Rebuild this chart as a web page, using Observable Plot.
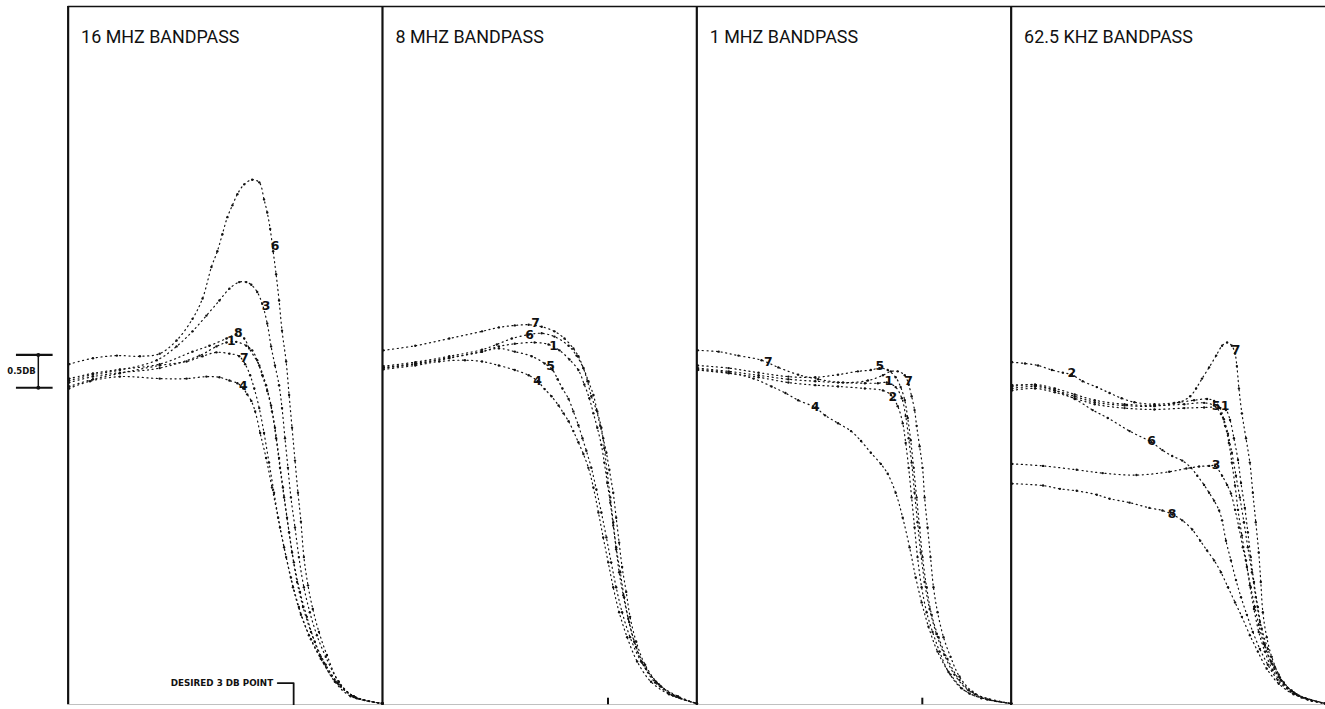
<!DOCTYPE html>
<html>
<head>
<meta charset="utf-8">
<script src="https://cdn.jsdelivr.net/npm/d3@7"></script>
<script src="https://cdn.jsdelivr.net/npm/@observablehq/plot@0.6"></script>
<style>
  html, body { margin: 0; padding: 0; background: #fff; overflow: hidden; }
  #chart svg { display: block; }
</style>
</head>
<body>
<div id="chart"></div>
<script>
// Filter passband responses: x = frequency normalised to the desired 3 dB point,
// y = relative response in dB. One array of [f, dB] samples per numbered curve.
const panels = ["16 MHZ BANDPASS", "8 MHZ BANDPASS", "1 MHZ BANDPASS", "62.5 KHZ BANDPASS"];

// 16 MHz bandpass
const bp16_6 = [[0.004,0.11],[0.109,0.20],[0.214,0.24],[0.315,0.23],[0.402,0.27],[0.476,0.47],[0.546,0.80],[0.590,1.11],[0.629,1.59],[0.655,1.83],[0.677,2.09],[0.699,2.35],[0.721,2.53],[0.743,2.70],[0.773,2.85],[0.808,2.92],[0.839,2.88],[0.860,2.62],[0.874,2.42],[0.887,2.17],[0.900,1.83],[0.913,1.48],[0.926,1.08],[0.939,0.62],[0.957,0.15],[0.970,-0.36],[0.983,-0.86],[0.996,-1.36],[1.009,-1.85],[1.022,-2.29],[1.035,-2.83],[1.053,-3.26],[1.074,-3.62],[1.101,-3.97],[1.136,-4.32],[1.188,-4.73],[1.253,-4.95],[1.380,-5.06]];
const bp16_3 = [[0.004,-0.14],[0.109,-0.05],[0.227,0.02],[0.389,0.17],[0.476,0.38],[0.546,0.61],[0.607,0.85],[0.664,1.08],[0.708,1.26],[0.751,1.36],[0.782,1.36],[0.804,1.32],[0.830,1.21],[0.852,1.03],[0.874,0.73],[0.891,0.38],[0.908,0.09],[0.926,-0.21],[0.939,-0.56],[0.952,-1.02],[0.965,-1.47],[0.978,-1.92],[0.996,-2.38],[1.013,-2.83],[1.035,-3.29],[1.061,-3.67],[1.092,-4.02],[1.131,-4.35],[1.188,-4.73],[1.253,-4.95],[1.380,-5.06]];
const bp16_8 = [[0.004,-0.11],[0.109,-0.03],[0.227,0.03],[0.402,0.11],[0.546,0.30],[0.620,0.39],[0.695,0.50],[0.738,0.56],[0.773,0.50],[0.795,0.35],[0.839,0.09],[0.869,-0.21],[0.891,-0.52],[0.908,-0.86],[0.926,-1.32],[0.943,-1.77],[0.961,-2.23],[0.983,-2.76],[1.005,-3.21],[1.031,-3.59],[1.066,-3.97],[1.109,-4.35],[1.171,-4.73],[1.240,-4.95],[1.380,-5.06]];
const bp16_1 = [[0.004,-0.17],[0.109,-0.08],[0.227,-0.02],[0.402,0.05],[0.577,0.24],[0.651,0.38],[0.695,0.44],[0.738,0.45],[0.782,0.39],[0.808,0.32],[0.830,0.17],[0.852,-0.06],[0.874,-0.30],[0.895,-0.61],[0.913,-1.02],[0.930,-1.47],[0.948,-1.92],[0.970,-2.45],[0.991,-2.91],[1.018,-3.36],[1.048,-3.74],[1.083,-4.12],[1.131,-4.47],[1.197,-4.80],[1.267,-4.98],[1.380,-5.06]];
const bp16_7 = [[0.004,-0.23],[0.109,-0.12],[0.227,-0.03],[0.402,0.09],[0.520,0.15],[0.590,0.23],[0.651,0.29],[0.708,0.27],[0.751,0.23],[0.777,0.11],[0.799,-0.06],[0.817,-0.26],[0.839,-0.56],[0.860,-0.94],[0.882,-1.39],[0.904,-1.85],[0.930,-2.38],[0.957,-2.83],[0.987,-3.29],[1.022,-3.71],[1.066,-4.08],[1.122,-4.44],[1.188,-4.77],[1.262,-4.97],[1.380,-5.06]];
const bp16_4 = [[0.004,-0.26],[0.096,-0.15],[0.227,-0.08],[0.402,-0.11],[0.520,-0.11],[0.607,-0.08],[0.664,-0.09],[0.708,-0.14],[0.743,-0.18],[0.769,-0.26],[0.786,-0.35],[0.804,-0.45],[0.821,-0.61],[0.843,-0.94],[0.869,-1.32],[0.895,-1.77],[0.922,-2.23],[0.948,-2.68],[0.978,-3.14],[1.013,-3.59],[1.057,-4.02],[1.109,-4.38],[1.175,-4.73],[1.253,-4.95],[1.380,-5.06]];
const bp16_labels = [["6",0.908,1.91],["3",0.869,1.00],["8",0.747,0.58],["1",0.716,0.47],["7",0.773,0.21],["4",0.769,-0.23]];

// 8 MHz bandpass
const bp8_7 = [[0.004,0.32],[0.144,0.39],[0.293,0.50],[0.437,0.61],[0.511,0.67],[0.581,0.70],[0.642,0.71],[0.699,0.68],[0.755,0.61],[0.799,0.50],[0.838,0.35],[0.860,0.23],[0.882,0.05],[0.900,-0.15],[0.917,-0.38],[0.939,-0.59],[0.956,-0.83],[0.969,-1.02],[0.983,-1.24],[0.996,-1.50],[1.013,-1.85],[1.026,-2.23],[1.039,-2.61],[1.052,-2.98],[1.070,-3.36],[1.087,-3.74],[1.114,-4.12],[1.153,-4.47],[1.214,-4.77],[1.297,-4.95],[1.380,-5.06]];
const bp8_6 = [[0.004,0.08],[0.144,0.14],[0.293,0.23],[0.437,0.33],[0.502,0.41],[0.568,0.50],[0.642,0.56],[0.699,0.58],[0.755,0.53],[0.817,0.39],[0.852,0.24],[0.882,0.05],[0.904,-0.15],[0.926,-0.36],[0.943,-0.61],[0.961,-0.86],[0.974,-1.17],[0.987,-1.55],[1.000,-1.92],[1.013,-2.30],[1.026,-2.68],[1.044,-3.06],[1.061,-3.44],[1.083,-3.82],[1.114,-4.20],[1.157,-4.53],[1.223,-4.80],[1.301,-4.97],[1.380,-5.06]];
const bp8_1 = [[0.004,0.06],[0.144,0.12],[0.293,0.21],[0.437,0.30],[0.511,0.38],[0.581,0.42],[0.668,0.44],[0.729,0.41],[0.777,0.32],[0.821,0.18],[0.860,0.02],[0.886,-0.20],[0.908,-0.41],[0.926,-0.64],[0.943,-0.86],[0.961,-1.12],[0.974,-1.39],[0.987,-1.70],[1.000,-2.00],[1.013,-2.35],[1.026,-2.71],[1.039,-3.06],[1.057,-3.41],[1.079,-3.77],[1.105,-4.12],[1.140,-4.44],[1.197,-4.74],[1.275,-4.94],[1.380,-5.06]];
const bp8_5 = [[0.004,0.05],[0.144,0.11],[0.293,0.20],[0.437,0.30],[0.511,0.35],[0.581,0.30],[0.655,0.23],[0.712,0.12],[0.747,0.02],[0.769,-0.12],[0.790,-0.26],[0.817,-0.42],[0.838,-0.61],[0.860,-0.82],[0.878,-1.02],[0.895,-1.21],[0.917,-1.47],[0.939,-1.80],[0.961,-2.15],[0.983,-2.53],[1.004,-2.91],[1.026,-3.29],[1.052,-3.67],[1.087,-4.05],[1.135,-4.42],[1.201,-4.73],[1.279,-4.94],[1.380,-5.06]];
const bp8_4 = [[0.004,0.03],[0.144,0.09],[0.249,0.15],[0.362,0.17],[0.437,0.15],[0.511,0.09],[0.581,0.02],[0.642,-0.06],[0.681,-0.15],[0.712,-0.27],[0.742,-0.38],[0.773,-0.52],[0.795,-0.64],[0.817,-0.76],[0.838,-0.91],[0.860,-1.08],[0.882,-1.26],[0.904,-1.47],[0.926,-1.77],[0.948,-2.15],[0.969,-2.53],[0.991,-2.91],[1.013,-3.29],[1.039,-3.67],[1.074,-4.05],[1.118,-4.42],[1.179,-4.73],[1.258,-4.92],[1.380,-5.06]];
const bp8_labels = [["7",0.672,0.73],["6",0.646,0.56],["1",0.751,0.38],["5",0.738,0.08],["4",0.681,-0.14]];

// 1 MHz bandpass
const bp1_7 = [[0.004,0.32],[0.096,0.30],[0.183,0.24],[0.284,0.17],[0.358,0.06],[0.445,-0.05],[0.533,-0.12],[0.642,-0.17],[0.751,-0.14],[0.817,-0.06],[0.852,0.00],[0.882,0.00],[0.913,-0.06],[0.930,-0.20],[0.943,-0.38],[0.956,-0.59],[0.965,-0.83],[0.978,-1.14],[0.991,-1.47],[1.000,-1.92],[1.013,-2.38],[1.026,-2.83],[1.039,-3.29],[1.057,-3.67],[1.083,-4.05],[1.114,-4.35],[1.153,-4.65],[1.210,-4.88],[1.284,-5.00],[1.380,-5.06]];
const bp1_5 = [[0.004,0.09],[0.140,0.05],[0.271,-0.02],[0.402,-0.08],[0.520,-0.09],[0.620,-0.05],[0.707,0.00],[0.764,0.02],[0.803,0.05],[0.838,0.02],[0.873,-0.09],[0.895,-0.24],[0.913,-0.44],[0.926,-0.71],[0.939,-1.05],[0.952,-1.47],[0.965,-1.92],[0.978,-2.38],[0.991,-2.83],[1.009,-3.29],[1.031,-3.71],[1.061,-4.05],[1.100,-4.38],[1.153,-4.70],[1.223,-4.92],[1.380,-5.06]];
const bp1_1 = [[0.004,0.05],[0.140,0.00],[0.271,-0.06],[0.402,-0.12],[0.520,-0.15],[0.620,-0.17],[0.738,-0.18],[0.795,-0.18],[0.834,-0.17],[0.873,-0.24],[0.900,-0.41],[0.917,-0.68],[0.930,-1.02],[0.943,-1.39],[0.956,-1.85],[0.969,-2.30],[0.983,-2.76],[1.000,-3.21],[1.022,-3.62],[1.052,-4.00],[1.087,-4.32],[1.131,-4.62],[1.192,-4.86],[1.275,-5.00],[1.380,-5.06]];
const bp1_2 = [[0.004,0.02],[0.140,-0.03],[0.271,-0.09],[0.402,-0.17],[0.520,-0.21],[0.620,-0.23],[0.738,-0.26],[0.817,-0.29],[0.852,-0.36],[0.882,-0.53],[0.904,-0.79],[0.917,-1.09],[0.930,-1.47],[0.943,-1.92],[0.956,-2.38],[0.969,-2.83],[0.987,-3.29],[1.009,-3.67],[1.035,-3.97],[1.066,-4.27],[1.105,-4.58],[1.162,-4.83],[1.249,-4.98],[1.380,-5.06]];
const bp1_4 = [[0.004,0.03],[0.140,-0.02],[0.249,-0.11],[0.328,-0.23],[0.389,-0.33],[0.445,-0.44],[0.520,-0.55],[0.563,-0.67],[0.620,-0.79],[0.677,-0.91],[0.721,-1.06],[0.764,-1.24],[0.808,-1.41],[0.838,-1.56],[0.873,-1.85],[0.904,-2.23],[0.934,-2.68],[0.961,-3.14],[0.987,-3.52],[1.017,-3.89],[1.057,-4.27],[1.114,-4.62],[1.197,-4.91],[1.380,-5.06]];
const bp1_labels = [["7",0.314,0.15],["5",0.803,0.08],["1",0.843,-0.15],["7",0.930,-0.14],["2",0.860,-0.39],["4",0.520,-0.55]];

// 62.5 kHz bandpass
const bp62_2 = [[0.004,0.14],[0.061,0.12],[0.118,0.09],[0.179,0.02],[0.227,-0.02],[0.266,-0.05],[0.314,-0.15],[0.376,-0.24],[0.432,-0.33],[0.485,-0.41],[0.541,-0.47],[0.629,-0.50],[0.716,-0.48],[0.803,-0.44],[0.860,-0.42],[0.891,-0.45],[0.917,-0.56],[0.934,-0.73],[0.952,-0.95],[0.969,-1.24],[0.987,-1.59],[1.004,-1.92],[1.022,-2.30],[1.039,-2.68],[1.057,-3.06],[1.074,-3.44],[1.092,-3.82],[1.114,-4.17],[1.144,-4.45],[1.183,-4.70],[1.240,-4.89],[1.319,-5.02],[1.380,-5.06]];
const bp62_7 = [[0.004,-0.26],[0.105,-0.23],[0.192,-0.29],[0.279,-0.38],[0.367,-0.47],[0.498,-0.52],[0.629,-0.53],[0.738,-0.47],[0.786,-0.38],[0.812,-0.26],[0.838,-0.11],[0.869,0.06],[0.900,0.24],[0.926,0.39],[0.948,0.44],[0.969,0.39],[0.983,0.27],[0.991,0.08],[1.000,-0.26],[1.013,-0.64],[1.031,-1.02],[1.048,-1.39],[1.061,-1.85],[1.074,-2.30],[1.087,-2.76],[1.096,-3.21],[1.105,-3.67],[1.122,-4.05],[1.144,-4.35],[1.175,-4.62],[1.214,-4.83],[1.275,-4.97],[1.380,-5.06]];
const bp62_1 = [[0.004,-0.29],[0.105,-0.26],[0.192,-0.32],[0.279,-0.41],[0.367,-0.50],[0.498,-0.56],[0.629,-0.58],[0.760,-0.56],[0.847,-0.55],[0.913,-0.55],[0.943,-0.59],[0.961,-0.74],[0.978,-1.02],[0.996,-1.35],[1.009,-1.70],[1.026,-2.08],[1.039,-2.45],[1.052,-2.83],[1.066,-3.21],[1.083,-3.59],[1.100,-3.92],[1.127,-4.23],[1.157,-4.50],[1.197,-4.74],[1.253,-4.92],[1.380,-5.06]];
const bp62_5 = [[0.004,-0.23],[0.105,-0.20],[0.192,-0.26],[0.279,-0.35],[0.367,-0.44],[0.498,-0.50],[0.629,-0.52],[0.760,-0.50],[0.847,-0.48],[0.891,-0.52],[0.921,-0.65],[0.939,-0.83],[0.956,-1.09],[0.969,-1.39],[0.983,-1.74],[0.996,-2.11],[1.013,-2.50],[1.031,-2.88],[1.048,-3.26],[1.066,-3.62],[1.087,-3.97],[1.114,-4.27],[1.148,-4.55],[1.197,-4.77],[1.262,-4.94],[1.380,-5.06]];
const bp62_6 = [[0.004,-0.21],[0.105,-0.21],[0.192,-0.29],[0.279,-0.42],[0.358,-0.59],[0.424,-0.71],[0.520,-0.91],[0.616,-1.08],[0.664,-1.20],[0.707,-1.29],[0.751,-1.36],[0.790,-1.47],[0.817,-1.59],[0.847,-1.73],[0.869,-1.85],[0.891,-1.97],[0.913,-2.12],[0.926,-2.27],[0.943,-2.58],[0.965,-2.88],[0.987,-3.18],[1.009,-3.44],[1.035,-3.71],[1.061,-3.97],[1.092,-4.23],[1.127,-4.47],[1.170,-4.70],[1.227,-4.88],[1.293,-4.98],[1.380,-5.06]];
const bp62_3 = [[0.004,-1.41],[0.140,-1.44],[0.288,-1.50],[0.402,-1.55],[0.550,-1.58],[0.694,-1.53],[0.769,-1.48],[0.825,-1.45],[0.869,-1.44],[0.895,-1.44],[0.926,-1.59],[0.948,-1.73],[0.965,-1.86],[0.983,-2.11],[1.000,-2.38],[1.017,-2.68],[1.035,-2.98],[1.052,-3.29],[1.070,-3.59],[1.087,-3.86],[1.109,-4.15],[1.140,-4.42],[1.179,-4.67],[1.231,-4.86],[1.301,-5.00],[1.380,-5.06]];
const bp62_8 = [[0.004,-1.71],[0.140,-1.74],[0.214,-1.79],[0.288,-1.82],[0.376,-1.88],[0.432,-1.94],[0.520,-2.00],[0.607,-2.08],[0.664,-2.12],[0.707,-2.18],[0.751,-2.27],[0.795,-2.41],[0.830,-2.58],[0.860,-2.73],[0.891,-2.88],[0.921,-3.06],[0.952,-3.29],[0.983,-3.52],[1.013,-3.74],[1.048,-4.02],[1.083,-4.27],[1.122,-4.53],[1.175,-4.76],[1.240,-4.92],[1.380,-5.06]];
const bp62_labels = [["7",0.987,0.32],["2",0.266,-0.03],["5",0.900,-0.53],["1",0.939,-0.53],["6",0.616,-1.06],["3",0.900,-1.42],["8",0.707,-2.18]];

// Reference marks
const halfDb = 0.25;        // half of the 0.5 dB bracket
const desired3dB = 0.99;    // normalised frequency of the desired 3 dB point
const yTop = 5.56, yBottom = -5.08;

const curveSets = [
  [["6", bp16_6], ["3", bp16_3], ["8", bp16_8], ["1", bp16_1], ["7", bp16_7], ["4", bp16_4]],
  [["7", bp8_7], ["6", bp8_6], ["1", bp8_1], ["5", bp8_5], ["4", bp8_4]],
  [["7", bp1_7], ["5", bp1_5], ["1", bp1_1], ["2", bp1_2], ["4", bp1_4]],
  [["2", bp62_2], ["7", bp62_7], ["1", bp62_1], ["5", bp62_5], ["6", bp62_6], ["3", bp62_3], ["8", bp62_8]]
];
const labelSets = [bp16_labels, bp8_labels, bp1_labels, bp62_labels];

const rows = curveSets.flatMap((set, i) =>
  set.flatMap(([id, pts]) => pts.map(([f, db]) => ({panel: panels[i], key: `${i}-${id}`, f, db}))));
const labelRows = labelSets.flatMap((set, i) =>
  set.map(([text, f, db]) => ({panel: panels[i], text, f, db})));

const first = () => panels[0];
const ink = "#111";

const chart = Plot.plot({
  width: 1332,
  height: 709,
  marginLeft: 68,
  marginRight: 0,
  marginTop: 6,
  marginBottom: 1,
  style: {background: "#fff", fontFamily: "DejaVu Sans, sans-serif", color: ink},
  fx: {domain: panels, padding: 0, axis: null, label: null},
  x: {domain: [0, 1.38], axis: null},
  y: {domain: [yBottom, yTop], axis: null},
  marks: [
    // panel frames: heavy vertical dividers, top rule, faint bottom edge
    Plot.ruleX(panels, {fx: d => d, x: () => 0, stroke: ink, strokeWidth: 2.2}),
    Plot.ruleY(panels, {fx: d => d, y: () => yTop, stroke: ink, strokeWidth: 1.6}),
    Plot.ruleY(panels, {fx: d => d, y: () => yBottom, stroke: "#a8a8a8", strokeWidth: 1}),

    // dotted response traces
    Plot.line(rows, {
      fx: "panel", x: "f", y: "db", z: "key",
      curve: "catmull-rom", stroke: ink, strokeWidth: 1.2,
      strokeDasharray: "1.1 3.6"
    }),
    Plot.dot(rows, {fx: "panel", x: "f", y: "db", r: 1.2, fill: ink, stroke: null}),

    // curve numbers
    Plot.text(labelRows, {
      fx: "panel", x: "f", y: "db", text: "text",
      fontSize: 12.5, fontWeight: "bold", fill: ink
    }),

    // panel titles
    Plot.text(panels, {
      fx: d => d, text: d => d, frameAnchor: "top-left", textAnchor: "start",
      dx: 13, dy: 24, fontSize: 18, fontFamily: "Roboto, sans-serif", fill: ink
    }),

    // 0.5 dB scale bracket left of the first panel
    Plot.ruleY([halfDb, -halfDb], {fx: first, y: d => d, x1: () => -0.227, x2: () => -0.066, stroke: ink, strokeWidth: 2.2}),
    Plot.ruleX([0], {fx: first, x: () => -0.131, y1: () => -halfDb, y2: () => halfDb, stroke: ink, strokeWidth: 1.5}),
    Plot.dot([halfDb, -halfDb], {fx: first, x: () => -0.131, y: d => d, r: 2, fill: ink, stroke: null}),
    Plot.text([0], {
      fx: first, x: () => -0.205, y: () => 0, text: () => `${2 * halfDb}DB`,
      fontSize: 8.5, fontWeight: "bold", fill: ink
    }),

    // desired 3 dB point marker
    Plot.text([0], {
      fx: first, x: () => 0.9, y: () => -4.75, text: () => "DESIRED 3 DB POINT",
      textAnchor: "end", fontSize: 8.8, fontWeight: "bold", fill: ink
    }),
    Plot.line([[0.92, -4.75], [desired3dB, -4.75], [desired3dB, yBottom]], {
      fx: first, x: d => d[0], y: d => d[1], stroke: ink, strokeWidth: 1.8
    }),
    Plot.ruleX([panels[1], panels[2]], {
      fx: d => d, x: () => desired3dB, y1: () => yBottom, y2: () => yBottom + 0.1,
      stroke: ink, strokeWidth: 2
    })
  ]
});

document.getElementById("chart").appendChild(chart);
</script>
</body>
</html>
